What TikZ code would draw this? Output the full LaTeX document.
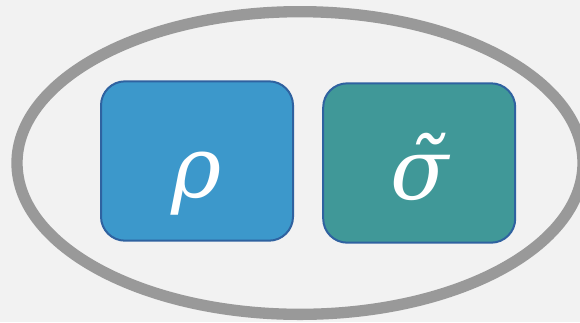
\documentclass[tikz,border=0pt]{standalone}
\usepackage{fontspec}
\setmainfont{DejaVu Serif}
\usetikzlibrary{shapes.geometric}
\definecolor{bgc}{HTML}{F2F2F2}
\definecolor{ringc}{HTML}{999999}
\definecolor{bluef}{HTML}{3C98CB}
\definecolor{tealf}{HTML}{409898}
\definecolor{edgec}{HTML}{2F62A0}
\tikzset{
  card/.style={draw=edgec, line width=1.5pt, rounded corners=18pt, inner sep=0pt,
    minimum width=144pt, minimum height=119.5pt, text=white,
    text height=54pt, text depth=0pt,
    font=\fontsize{64}{64}\selectfont\itshape},
  ring/.style={ellipse, draw=ringc, line width=8.5pt, inner sep=0pt,
    minimum width=424.5pt, minimum height=227pt}
}
\begin{document}
\begin{tikzpicture}[x=0.75pt,y=-0.75pt]
\fill[bgc] (0,0) rectangle (580,322);
\useasboundingbox (0,0) rectangle (580,322);
\clip (0,0) rectangle (580,322);
\node[ring] (outer) at (300,163) {};
\node[card, fill=bluef] (rho) at (197,161) {ρ};
\node[card, fill=tealf] (sigma) at (419.2,163) {σ̃};
\end{tikzpicture}
\end{document}
